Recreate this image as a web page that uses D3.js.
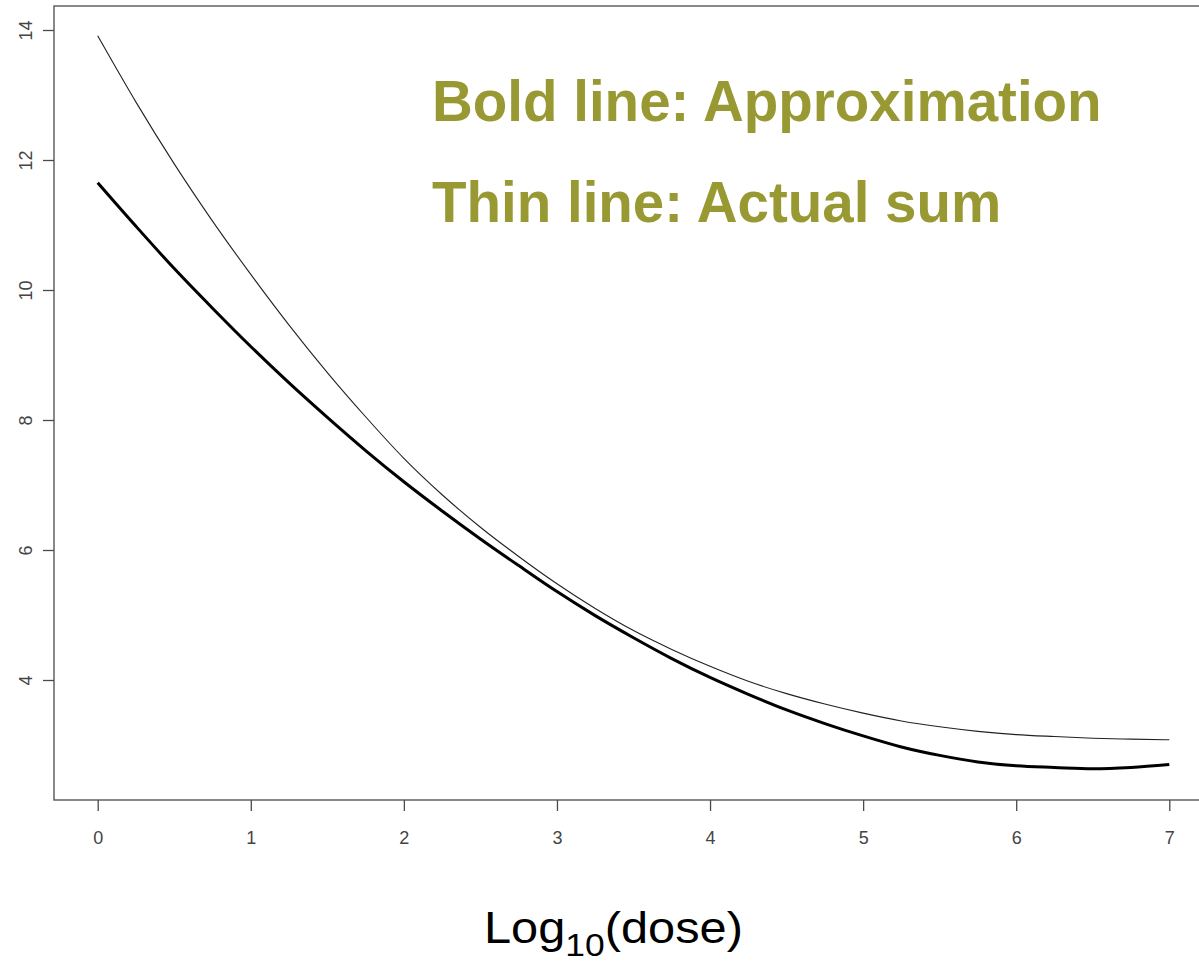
<!DOCTYPE html>
<html>
<head>
<meta charset="utf-8">
<script src="https://cdn.jsdelivr.net/npm/d3@7"></script>
<style>
  html, body { margin: 0; padding: 0; background: #fff; }
  svg { display: block; }
</style>
</head>
<body>
<script>
// log10(dose) grid
const doses = [0, 0.25, 0.5, 0.75, 1, 1.25, 1.5, 1.75, 2, 2.25, 2.5, 2.75, 3, 3.25, 3.5,
               3.75, 4, 4.25, 4.5, 4.75, 5, 5.25, 5.5, 5.75, 6, 6.25, 6.5, 6.75, 7];
// thin line: actual sum
const actualSum = [13.91, 12.89, 11.94, 11.06, 10.24, 9.46, 8.73, 8.05, 7.41, 6.85, 6.35, 5.90, 5.48, 5.10, 4.76,
                   4.47, 4.21, 3.98, 3.79, 3.63, 3.49, 3.37, 3.28, 3.21, 3.16, 3.13, 3.105, 3.09, 3.08];
// bold line: approximation
const approximation = [11.65, 10.98, 10.33, 9.72, 9.13, 8.57, 8.04, 7.53, 7.05, 6.60, 6.17, 5.76, 5.36, 4.99, 4.65,
                       4.33, 4.04, 3.78, 3.54, 3.33, 3.14, 2.97, 2.84, 2.74, 2.68, 2.655, 2.635, 2.655, 2.70];
const xTicks = [0, 1, 2, 3, 4, 5, 6, 7];
const yTicks = [4, 6, 8, 10, 12, 14];
const legendLines = ["Bold line: Approximation", "Thin line: Actual sum"];

const W = 1199, H = 964;
const frame = { left: 54, top: 6, right: 1205, bottom: 800 };

const svg = d3.select("body").append("svg")
  .attr("width", W).attr("height", H)
  .style("font-family", "'Liberation Sans', Arial, sans-serif");

const x = d3.scaleLinear().domain([0, 7]).range([97.7, 1169.3]);
const y = d3.scaleLinear().domain([4, 14]).range([680, 30]);

// plot box
svg.append("rect")
  .attr("x", frame.left).attr("y", frame.top)
  .attr("width", frame.right - frame.left).attr("height", frame.bottom - frame.top)
  .attr("fill", "none").attr("stroke", "#4a4a4a").attr("stroke-width", 1.3);

// x axis
const xAxis = svg.append("g")
  .attr("transform", `translate(0,${frame.bottom})`)
  .call(d3.axisBottom(x).tickValues(xTicks).tickFormat(d3.format("d")).tickSize(11).tickPadding(20));
xAxis.select(".domain").remove();
xAxis.selectAll(".tick line").attr("stroke", "#4a4a4a").attr("stroke-width", 1.3);
xAxis.selectAll(".tick text")
  .attr("font-size", 18).attr("fill", "#444")
  .style("font-family", "'Liberation Sans', Arial, sans-serif");

// y axis (labels parallel to the axis)
const yAxis = svg.append("g")
  .attr("transform", `translate(${frame.left},0)`)
  .call(d3.axisLeft(y).tickValues(yTicks).tickFormat(d3.format("d")).tickSize(11));
yAxis.select(".domain").remove();
yAxis.selectAll(".tick line").attr("stroke", "#4a4a4a").attr("stroke-width", 1.3);
yAxis.selectAll(".tick text")
  .attr("font-size", 18).attr("fill", "#444")
  .attr("x", null).attr("dy", null)
  .attr("text-anchor", "middle")
  .attr("transform", "translate(-22,0) rotate(-90)")
  .style("font-family", "'Liberation Sans', Arial, sans-serif");

// curves
const line = d3.line()
  .x(d => x(d[0]))
  .y(d => y(d[1]))
  .curve(d3.curveMonotoneX);

svg.append("path")
  .datum(doses.map((d, i) => [d, actualSum[i]]))
  .attr("d", line)
  .attr("fill", "none").attr("stroke", "#222").attr("stroke-width", 1.1);

svg.append("path")
  .datum(doses.map((d, i) => [d, approximation[i]]))
  .attr("d", line)
  .attr("fill", "none").attr("stroke", "#000").attr("stroke-width", 3);

// annotation
svg.selectAll("text.note")
  .data(legendLines)
  .enter().append("text")
  .attr("class", "note")
  .attr("x", 432)
  .attr("y", (d, i) => 121 + i * 101)
  .attr("font-size", 56.5)
  .attr("font-weight", "bold")
  .attr("fill", "#999933")
  .text(d => d);

// x axis title with subscript, slightly widened glyphs
const title = svg.append("text")
  .attr("transform", "translate(484,943) scale(1.108,1)")
  .attr("font-size", 44)
  .attr("fill", "#000");
title.append("tspan").text("Log");
title.append("tspan").attr("font-size", 32).attr("dy", 13).text("10");
title.append("tspan").attr("dy", -13).text("(dose)");
</script>
</body>
</html>
